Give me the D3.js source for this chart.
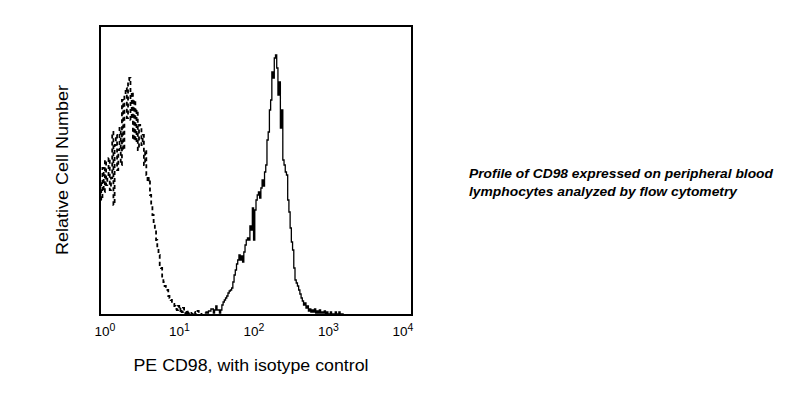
<!DOCTYPE html>
<html>
<head>
<meta charset="utf-8">
<script src="https://cdn.jsdelivr.net/npm/d3@7"></script>
<style>
  body { margin: 0; background: #fff; }
  svg { display: block; font-family: "Liberation Sans", Arial, sans-serif; }
</style>
</head>
<body>
<svg id="chart" width="801" height="397"></svg>
<script>
// histogram counts, one value per channel (256 channels over 4 decades)
const isotypeStart = 0;
const isotypeCounts = [
  67, 57, 73, 61, 77, 64.5, 69.5, 78, 62, 68,
  91, 54.5, 84.5, 89.5, 72, 82, 93, 74.5, 107, 82,
  109.5, 113, 98, 117, 118, 97, 111, 87, 107, 86,
  102, 82, 94.5, 93, 84.5, 89.5, 74.5, 82, 69.5, 66,
  68, 59.5, 54.5, 49.5, 46, 42, 37, 33, 29.5, 24.5,
  23, 18, 16, 14, 12, 12, 9, 8, 7, 5.5,
  5, 4, 2.5, 2, 4, 1.5, 3, 1, 3, 1.5,
  0.5, 2, 0.5, 1, 0.5, 0, 0, 1, 0, 0,
  1.5, 0, 0, 0
];

const cd98Start = 86;
const cd98Counts = [
  0.5, 1, 0.5, 1.5, 1.5, 2.5, 2.5, 0.5, 2, 4,
  2, 2, 0.5, 2, 4.5, 6, 7, 8, 9, 10.5,
  11.5, 12, 13, 16, 19.5, 22, 25, 27, 29.5, 27,
  29, 26, 31, 34.5, 37, 38, 37, 44, 42, 53,
  37, 52, 57, 59.5, 61, 58, 63, 67, 64, 71,
  74.5, 87, 91, 102, 107, 121, 118, 128, 129.5, 123,
  109.5, 116, 93, 102, 77, 74.5, 71, 69.5, 57, 51,
  43, 36, 32, 23, 17, 15.5, 14, 12, 10, 8,
  6.5, 4.5, 5.5, 3, 4, 1.5, 2.5, 1, 2, 1,
  2.5, 0.5, 1.5, 0.5, 2, 0.5, 1, 0.5, 1.5, 0,
  1, 0, 0, 1, 0, 0, 0, 1, 0, 0,
  1, 0, 0, 0
];

const decadeTicks = [1, 10, 100, 1000, 10000];
const tickExponents = ["0", "1", "2", "3", "4"];
const captionLines = [
  "Profile of CD98 expressed on peripheral blood",
  "lymphocytes analyzed by flow cytometry"
];
const captionWidths = [304, 268];

const svg = d3.select("#chart");
const plot = { left: 100, right: 412, top: 26, bottom: 315 };
const channels = 256;

const x = d3.scaleLog()
  .domain([1, 10000])
  .range([plot.left, plot.right]);

// channel -> fluorescence (4-decade log amplifier)
const chToValue = c => Math.pow(10, 4 * c / channels);

const y = d3.scaleLinear()
  .domain([0, 144.5])
  .range([plot.bottom - 1, plot.top - 1]);

// label positions sit slightly inside the frame
const xLabel = d3.scaleLog()
  .domain([1, 10000])
  .range([105, 403]);

svg.append("clipPath").attr("id", "plot-clip")
  .append("rect")
  .attr("x", plot.left + 1)
  .attr("y", plot.top + 1)
  .attr("width", plot.right - plot.left - 2)
  .attr("height", plot.bottom - plot.top - 2);

function toPoints(start, counts) {
  const pts = counts.map((v, i) => [start + i, v]);
  pts.push([start + counts.length, counts[counts.length - 1]]);
  return pts;
}

const line = d3.line()
  .x(d => x(chToValue(d[0])))
  .y(d => y(d[1]))
  .curve(d3.curveStepAfter);

const g = svg.append("g").attr("clip-path", "url(#plot-clip)");

g.append("path")
  .datum(toPoints(isotypeStart - 2, [62, 70].concat(isotypeCounts)))
  .attr("fill", "none")
  .attr("stroke", "#000")
  .attr("stroke-width", 1.8)
  .attr("stroke-dasharray", "4,3")
  .attr("d", line);

g.append("path")
  .datum(toPoints(cd98Start, cd98Counts))
  .attr("fill", "none")
  .attr("stroke", "#000")
  .attr("stroke-width", 1.3)
  .attr("d", line);

// frame
svg.append("rect")
  .attr("x", plot.left)
  .attr("y", plot.top)
  .attr("width", plot.right - plot.left)
  .attr("height", plot.bottom - plot.top)
  .attr("fill", "none")
  .attr("stroke", "#000")
  .attr("stroke-width", 2);

// decade labels
const labels = svg.append("g")
  .selectAll("text")
  .data(decadeTicks)
  .join("text")
  .attr("x", d => xLabel(d))
  .attr("y", 336)
  .attr("text-anchor", "middle")
  .attr("font-size", 13.5)
  .attr("fill", "#000");
labels.append("tspan").text("10");
labels.append("tspan")
  .attr("dy", -5)
  .attr("font-size", 10.5)
  .text((d, i) => tickExponents[i]);

// axis titles
svg.append("text")
  .attr("x", 251)
  .attr("y", 371)
  .attr("text-anchor", "middle")
  .attr("font-size", 16)
  .attr("textLength", 235)
  .attr("lengthAdjust", "spacingAndGlyphs")
  .text("PE CD98, with isotype control");

svg.append("text")
  .attr("transform", "translate(68,170) rotate(-90)")
  .attr("text-anchor", "middle")
  .attr("font-size", 16)
  .attr("textLength", 170)
  .attr("lengthAdjust", "spacingAndGlyphs")
  .text("Relative Cell Number");

// caption
svg.append("g")
  .selectAll("text")
  .data(captionLines)
  .join("text")
  .attr("x", 469)
  .attr("y", (d, i) => 178 + i * 18)
  .attr("font-size", 13.5)
  .attr("font-weight", "bold")
  .attr("font-style", "italic")
  .attr("textLength", (d, i) => captionWidths[i])
  .attr("lengthAdjust", "spacingAndGlyphs")
  .text(d => d);
</script>
</body>
</html>
